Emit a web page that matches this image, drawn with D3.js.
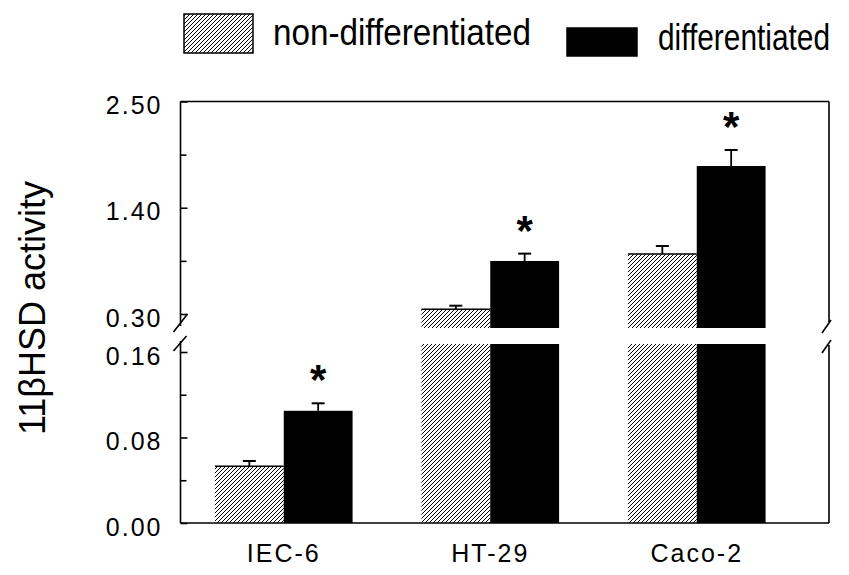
<!DOCTYPE html>
<html>
<head>
<meta charset="utf-8">
<script src="https://cdn.jsdelivr.net/npm/d3@7"></script>
<style>
  body { margin: 0; background: #fff; }
  svg { font-family: "Liberation Sans", Arial, sans-serif; }
  .tick text { font-size: 25px; letter-spacing: 2px; fill: #000; }
  .tick line, .frame { stroke: #000; stroke-width: 1.6; }
</style>
</head>
<body>
<svg id="chart"></svg>
<script>
const categories = ["IEC-6", "HT-29", "Caco-2"];
const series = ["non-differentiated", "differentiated"];
const nonDiff = [0.053, 0.349, 0.921];
const nonDiffErr = [0.005, 0.037, 0.083];
const diff = [0.105, 0.849, 1.832];
const diffErr = [0.007, 0.076, 0.166];
const significant = [true, true, true];

const upperTicks = [0.30, 1.40, 2.50];
const upperMinor = [0.85, 1.95];
const lowerTicks = [0.00, 0.08, 0.16];
const lowerMinor = [0.04, 0.12];

const width = 849;
const height = 575;

const svg = d3.select("#chart").attr("width", width).attr("height", height);

const defs = svg.append("defs");
const hatch = defs
  .append("pattern")
  .attr("id", "hatch")
  .attr("patternUnits", "userSpaceOnUse")
  .attr("width", 4)
  .attr("height", 4);
hatch.append("rect").attr("width", 4).attr("height", 4).attr("fill", "#fff");
hatch
  .append("path")
  .attr("d", "M-1,1 l2,-2 M0,4 l4,-4 M3,5 l2,-2")
  .attr("stroke", "#000")
  .attr("stroke-width", 1);

const left = 180.5;
const right = 829;

// two panels of a broken axis
const yUpper = d3.scaleLinear().domain([0.30, 2.50]).range([314, 101.5]);
const yLower = d3.scaleLinear().domain([0.00, 0.16]).range([523, 352]);
const upperBottom = 328;
const lowerTop = 344;
const lowerMax = yLower.invert(lowerTop);

const x = d3
  .scaleBand()
  .domain(categories)
  .range([left, left + 3 * 206.5])
  .paddingInner(1 / 3)
  .paddingOuter(1 / 6);
const xs = d3.scaleBand().domain(series).range([0, x.bandwidth()]);

const fills = ["url(#hatch)", "#000"];

const bars = [];
categories.forEach((c, i) => {
  bars.push({ cat: c, s: 0, v: nonDiff[i], e: nonDiffErr[i] });
  bars.push({ cat: c, s: 1, v: diff[i], e: diffErr[i] });
});

const barG = svg.append("g");

bars.forEach((d) => {
  const bx = x(d.cat) + xs(series[d.s]);
  const bw = xs.bandwidth();
  let top, capY;
  if (d.v <= lowerMax) {
    top = yLower(d.v);
    capY = yLower(d.v + d.e);
    barG.append("rect").attr("x", bx).attr("y", top)
      .attr("width", bw).attr("height", yLower(0) - top)
      .attr("fill", fills[d.s]);
  } else {
    top = yUpper(d.v);
    capY = yUpper(d.v + d.e);
    barG.append("rect").attr("x", bx).attr("y", lowerTop)
      .attr("width", bw).attr("height", yLower(0) - lowerTop)
      .attr("fill", fills[d.s]);
    barG.append("rect").attr("x", bx).attr("y", top)
      .attr("width", bw).attr("height", upperBottom - top)
      .attr("fill", fills[d.s]);
  }
  if (d.s === 0) {
    barG.append("line").attr("x1", bx).attr("x2", bx + bw)
      .attr("y1", top).attr("y2", top)
      .attr("stroke", "#000").attr("stroke-width", 1.5);
  }
  // error bar
  const cx = bx + bw / 2;
  barG.append("line").attr("x1", cx).attr("x2", cx)
    .attr("y1", top).attr("y2", capY)
    .attr("stroke", "#000").attr("stroke-width", 1.8);
  barG.append("line").attr("x1", cx - 6.5).attr("x2", cx + 6.5)
    .attr("y1", capY).attr("y2", capY)
    .attr("stroke", "#000").attr("stroke-width", 2);
  d.capY = capY;
  d.cx = cx;
});

// significance stars above the differentiated bars
bars.filter((d) => d.s === 1).forEach((d, i) => {
  if (!significant[i]) return;
  svg.append("text")
    .attr("x", d.cx)
    .attr("y", d.capY - 33 + 24)
    .attr("text-anchor", "middle")
    .attr("font-size", 42)
    .attr("font-weight", "bold")
    .text("*");
});

// frame
const frame = svg.append("g");
const seg = (x1, y1, x2, y2) =>
  frame.append("line").attr("x1", x1).attr("y1", y1)
    .attr("x2", x2).attr("y2", y2).classed("frame", true);
seg(left, 101.5, right, 101.5);
seg(left, 523, right, 523);
seg(left, 101.5, left, 326);
seg(left, 341, left, 523);
seg(right, 101.5, right, 322);
seg(right, 345, right, 523);
// break marks
seg(left - 7, 332, left + 7, 314);
seg(left - 7, 351, left + 6, 336);
seg(right - 7, 333, right + 2, 320);
seg(right - 7, 353, right + 2, 340);

// axes
function yAxis(scale, major, minor) {
  svg.append("g")
    .attr("transform", `translate(${left},0)`)
    .call(d3.axisLeft(scale).tickValues(major).tickSize(-7)
      .tickPadding(18).tickFormat(d3.format(".2f")))
    .call((g) => g.select(".domain").remove())
    .call((g) => g.selectAll("text").attr("dy", "0.48em"));
  svg.append("g")
    .attr("transform", `translate(${left},0)`)
    .call(d3.axisLeft(scale).tickValues(minor).tickSize(-6).tickFormat(""))
    .call((g) => g.select(".domain").remove());
}
yAxis(yUpper, upperTicks, upperMinor);
yAxis(yLower, lowerTicks, lowerMinor);

// category labels
svg.append("g")
  .selectAll("text")
  .data(categories)
  .join("text")
  .attr("x", (d) => x(d) + x.bandwidth() / 2)
  .attr("y", 562)
  .attr("text-anchor", "middle")
  .attr("font-size", 25)
  .attr("letter-spacing", 2)
  .text((d) => d);

// y label
svg.append("text")
  .attr("transform", "translate(45,308) rotate(-90)")
  .attr("text-anchor", "middle")
  .attr("font-size", 36)
  .text("11βHSD activity");

// legend (narrow lettering: scale the text to the printed width)
const legendItems = [
  { box: [184, 14, 69, 39], tx: 273, ty: 45, len: 258 },
  { box: [567, 28, 70, 28], tx: 658, ty: 50, len: 172 },
];
series.forEach((s, i) => {
  const it = legendItems[i];
  svg.append("rect")
    .attr("x", it.box[0]).attr("y", it.box[1])
    .attr("width", it.box[2]).attr("height", it.box[3])
    .attr("fill", fills[i])
    .attr("stroke", "#000").attr("stroke-width", 1.5);
  const t = svg.append("text")
    .attr("font-size", 37)
    .text(s);
  const sx = it.len / t.node().getComputedTextLength();
  t.attr("transform", `translate(${it.tx},${it.ty}) scale(${sx},1)`);
});
</script>
</body>
</html>
